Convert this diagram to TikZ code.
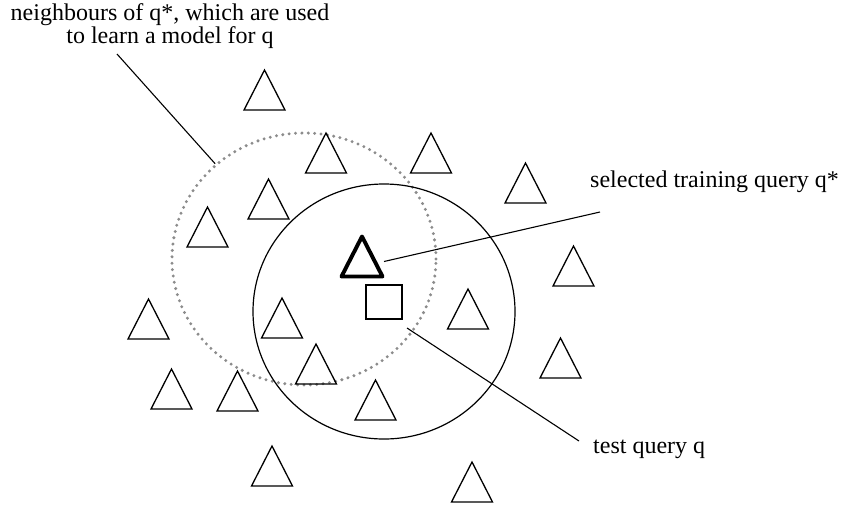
\documentclass[tikz,border=0pt]{standalone}
\usepackage{fontspec}
\setmainfont{Liberation Serif}
\usetikzlibrary{shapes.geometric}

\definecolor{dotgray}{RGB}{140,140,140}

\tikzset{
  lbl/.style={anchor=base west, inner sep=0pt, font=\fontsize{24}{20}\selectfont},
  leader/.style={line width=1.1pt, black},
  ring/.style={ellipse, draw, line width=1.2pt, inner sep=0pt},
  dotring/.style={ellipse, draw=dotgray, inner sep=0pt, line width=3.3pt,
                  line cap=round, dash pattern=on 0pt off 6.4pt},
  pics/tri/.style={code={
      \draw[line width=1.3pt, line join=miter] (-20.5,0) -- (20.5,0) -- (0,-40) -- cycle;
  }},
  pics/boldtri/.style={code={
      \draw[line width=3.9pt, line join=round] (-20.5,0) -- (20.5,0) -- (0,-40) -- cycle;
      \coordinate (-edge) at (22,-15);
  }},
}

\begin{document}
\begin{tikzpicture}[x=1pt, y=-1pt]
  \useasboundingbox (0,0) rectangle (842,509);

  % neighbourhood of the selected training query (dotted) and of the test query (solid)
  \node[dotring, minimum width=264pt, minimum height=252pt] (nb) at (304,259) {};
  \node[ring, minimum width=262pt, minimum height=255pt] (tq) at (384,311.5) {};

  % training queries
  \pic at (264.5,110) {tri};
  \pic at (326,173) {tri};
  \pic at (431,173) {tri};
  \pic at (525.5,203) {tri};
  \pic at (268.5,219) {tri};
  \pic at (207.5,247) {tri};
  \pic at (573.5,286) {tri};
  \pic at (468,329) {tri};
  \pic at (148.5,339) {tri};
  \pic at (282,338) {tri};
  \pic at (560.5,378) {tri};
  \pic at (316,384) {tri};
  \pic at (171.5,409) {tri};
  \pic at (237.5,411) {tri};
  \pic at (375.5,420) {tri};
  \pic at (272,486) {tri};
  \pic at (472,502) {tri};

  % selected training query q* and test query q
  \pic (qs) at (362,276.5) {boldtri};
  \node[draw, line width=1.3pt, minimum width=36pt, minimum height=34pt, inner sep=0pt] (sq) at (384,302) {};

  % labels
  \node[lbl, anchor=north, align=center] (nbtxt) at (170,3.8)
    {neighbours of q*, which are used\\to learn a model for q};
  \node[lbl] (seltxt) at (590,187) {selected training query q*};
  \node[lbl] (testtxt) at (593,453) {test query q};

  % leader lines
  \coordinate (nbtail) at (117,54);
  \coordinate (seltail) at (600,212);
  \coordinate (sqhead) at (407,328);
  \coordinate (testtail) at (579,441);
  \draw[leader] (nbtail) -- (nb.133.8);
  \draw[leader] (qs-edge) -- (seltail);
  \draw[leader] (sqhead) -- (testtail);
\end{tikzpicture}
\end{document}
